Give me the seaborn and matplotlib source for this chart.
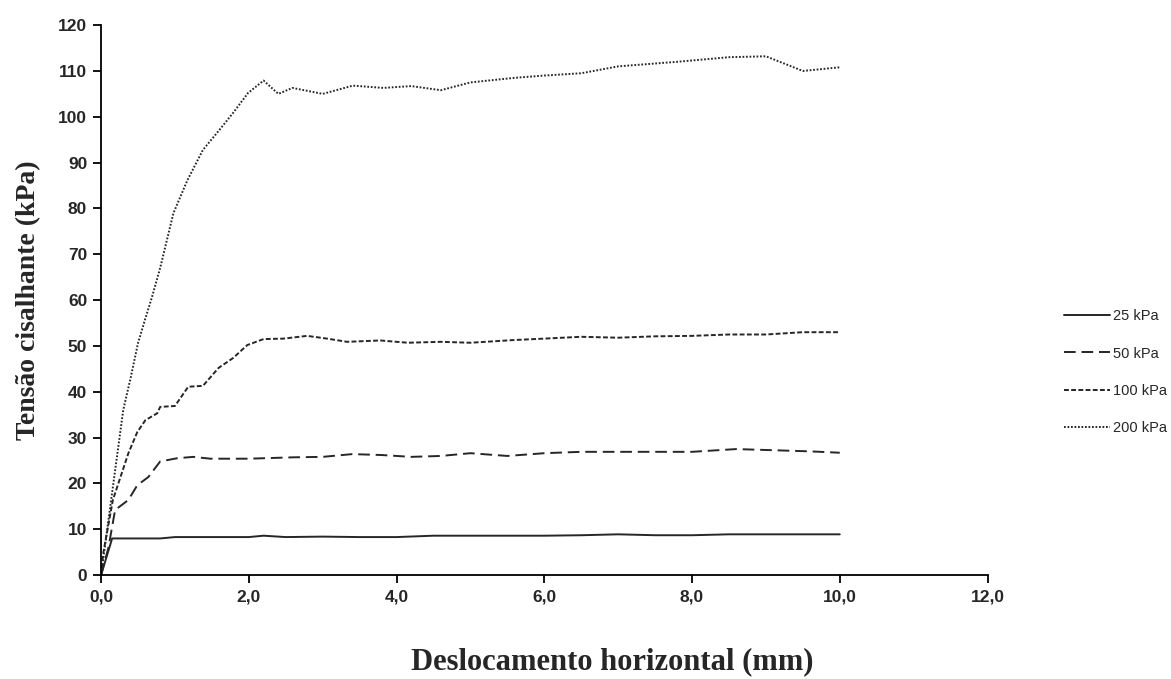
import numpy as np
import pandas as pd
import matplotlib
matplotlib.use("Agg")
import matplotlib.pyplot as plt
import seaborn as sns

#---- D A T A ----

x_25 = [0.0, 0.15, 0.5, 0.8, 1.0, 1.5, 2.0, 2.2, 2.5, 3.0, 3.5, 4.0, 4.5, 5.0, 5.5, 6.0, 6.5, 7.0, 7.5, 8.0, 8.5, 9.0, 9.5, 10.0]
y_25 = [0.0, 8.0, 8.0, 8.0, 8.3, 8.3, 8.3, 8.6, 8.3, 8.4, 8.3, 8.3, 8.6, 8.6, 8.6, 8.6, 8.7, 8.9, 8.7, 8.7, 8.9, 8.9, 8.9, 8.9]

x_50 = [0.0, 0.1, 0.19, 0.37, 0.49, 0.64, 0.8, 1.03, 1.25, 1.48, 2.0, 2.6, 3.0, 3.4, 3.8, 4.2, 4.6, 5.0, 5.5, 6.0, 6.5, 7.0, 7.5, 8.0, 8.6, 9.2, 9.6, 10.0]
y_50 = [0.0, 6.0, 14.2, 16.4, 19.6, 21.4, 24.8, 25.5, 25.8, 25.4, 25.4, 25.7, 25.8, 26.4, 26.2, 25.8, 26.0, 26.6, 26.0, 26.6, 26.9, 26.9, 26.9, 26.9, 27.5, 27.2, 27.0, 26.7]

x_100 = [0.0, 0.03, 0.16, 0.37, 0.49, 0.6, 0.76, 0.8, 1.0, 1.18, 1.38, 1.59, 1.79, 1.98, 2.2, 2.47, 2.79, 3.06, 3.33, 3.78, 4.15, 4.6, 5.0, 5.6, 6.0, 6.5, 7.0, 7.5, 8.0, 8.5, 9.0, 9.5, 10.0]
y_100 = [0.0, 4.8, 16.4, 26.6, 31.2, 33.8, 35.3, 36.7, 36.9, 41.1, 41.3, 45.2, 47.4, 50.2, 51.5, 51.6, 52.2, 51.6, 50.9, 51.2, 50.7, 50.9, 50.7, 51.3, 51.6, 52.0, 51.8, 52.1, 52.2, 52.5, 52.5, 53.0, 53.0]

x_200 = [0.0, 0.1, 0.2, 0.3, 0.4, 0.5, 0.6, 0.69, 0.8, 0.98, 1.17, 1.38, 1.57, 1.79, 1.99, 2.2, 2.4, 2.59, 3.0, 3.41, 3.82, 4.2, 4.6, 5.0, 5.6, 6.0, 6.5, 7.0, 7.8, 8.5, 9.0, 9.5, 10.0]
y_200 = [0.0, 12.0, 24.0, 36.0, 43.0, 50.6, 56.0, 60.7, 67.0, 79.0, 86.2, 92.8, 96.5, 100.9, 105.2, 107.9, 105.0, 106.3, 105.0, 106.8, 106.3, 106.7, 105.8, 107.5, 108.5, 109.0, 109.5, 111.0, 112.0, 113.0, 113.2, 110.0, 110.8]

labels = ["25 kPa", "50 kPa", "100 kPa", "200 kPa"]
series = [(x_25, y_25), (x_50, y_50), (x_100, y_100), (x_200, y_200)]

#---- P L O T ----

sns.set_style("ticks")
plt.rcParams["font.family"] = ["Liberation Sans", "DejaVu Sans"]

fig = plt.figure(figsize=(11.71, 6.79), dpi=100)
ax = fig.add_axes([0.0863, 0.153, 0.757, 0.810])

dashes = [(None, None), (6, 3), (2.5, 1.2), (0.9, 0.9)]
for (xs, ys), lab, ds in zip(series, labels, dashes):
    sns.lineplot(x=xs, y=ys, ax=ax, color="#262626", linewidth=1.4,
                 label=lab, sort=False)
    if ds[0] is not None:
        ax.lines[-1].set_dashes(ds)

ax.set_xlim(0, 12)
ax.set_ylim(0, 120)
ax.set_xticks(np.arange(0, 12.1, 2))
ax.set_xticklabels(["{:.1f}".format(v).replace(".", ",") for v in np.arange(0, 12.1, 2)])
ax.set_yticks(np.arange(0, 121, 10))
for lbl in ax.get_xticklabels() + ax.get_yticklabels():
    lbl.set_fontweight("bold")
    lbl.set_fontsize(12.5)
ax.tick_params(direction="out", length=6, width=1.3, color="black", pad=4)
for sp in ["top", "right"]:
    ax.spines[sp].set_visible(False)
for sp in ["left", "bottom"]:
    ax.spines[sp].set_linewidth(1.3)
    ax.spines[sp].set_color("black")

ax.set_xlabel("")
ax.set_ylabel("Tensão cisalhante (kPa)", family=["Liberation Serif"], fontweight="bold",
              fontsize=20, labelpad=12)
fig.text(0.523, 0.025, "Deslocamento horizontal (mm)", family=["Liberation Serif"],
         fontweight="bold", fontsize=22, ha="center", va="center")

ax.legend(loc="center left", bbox_to_anchor=(1.072, 0.369), frameon=False,
          fontsize=10.5, handlelength=3.1, handletextpad=0.2, labelspacing=1.6)

fig.savefig("out.png", dpi=100)
